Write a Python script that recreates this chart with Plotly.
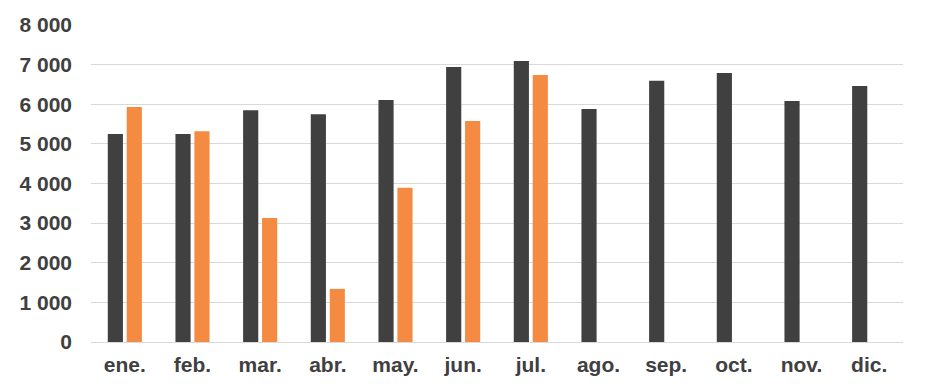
import plotly.graph_objects as go

months = ["ene.", "feb.", "mar.", "abr.", "may.", "jun.", "jul.", "ago.", "sep.", "oct.", "nov.", "dic."]
series_prev = [5250, 5250, 5850, 5750, 6110, 6940, 7090, 5880, 6590, 6790, 6080, 6460]
series_curr = [5930, 5320, 3130, 1340, 3890, 5580, 6740, None, None, None, None, None]
y_ticks = [0, 1000, 2000, 3000, 4000, 5000, 6000, 7000, 8000]

FONT = "Liberation Sans, Arial, sans-serif"

fig = go.Figure()
fig.add_bar(x=months, y=series_prev, marker=dict(color="#404040", line=dict(width=0)), name="prev")
fig.add_bar(x=months, y=series_curr, marker=dict(color="#F58B42", line=dict(width=0)), name="curr")

fig.update_layout(
    width=929, height=392,
    margin=dict(l=91, r=26, t=25, b=50),
    barmode="group", bargap=0.44, bargroupgap=0.2,
    plot_bgcolor="white", paper_bgcolor="white",
    showlegend=False,
    separators=", ",
    font=dict(family=FONT, size=21, color="#404040"),
)
fig.update_xaxes(showgrid=False, showline=True, linecolor="#d9d9d9", linewidth=1,
                 tickfont=dict(size=21, color="#404040", family=FONT),
                 ticklabelstandoff=4,
                 tickmode="array", tickvals=months, ticktext=["<b>" + m + "</b>" for m in months])
fig.update_yaxes(range=[0, 8000], showgrid=True,
                 gridcolor="#d9d9d9", gridwidth=1, zeroline=False, showline=False,
                 ticklabelstandoff=18,
                 tickfont=dict(size=21, color="#404040", family=FONT),
                 tickmode="array", tickvals=y_ticks,
                 ticktext=["<b>" + f"{v:,}".replace(",", " ") + "</b>" for v in y_ticks])

fig.write_html("out.html", config={"displayModeBar": False},
               post_script="document.body.style.margin='0';document.body.style.overflow='hidden';")
